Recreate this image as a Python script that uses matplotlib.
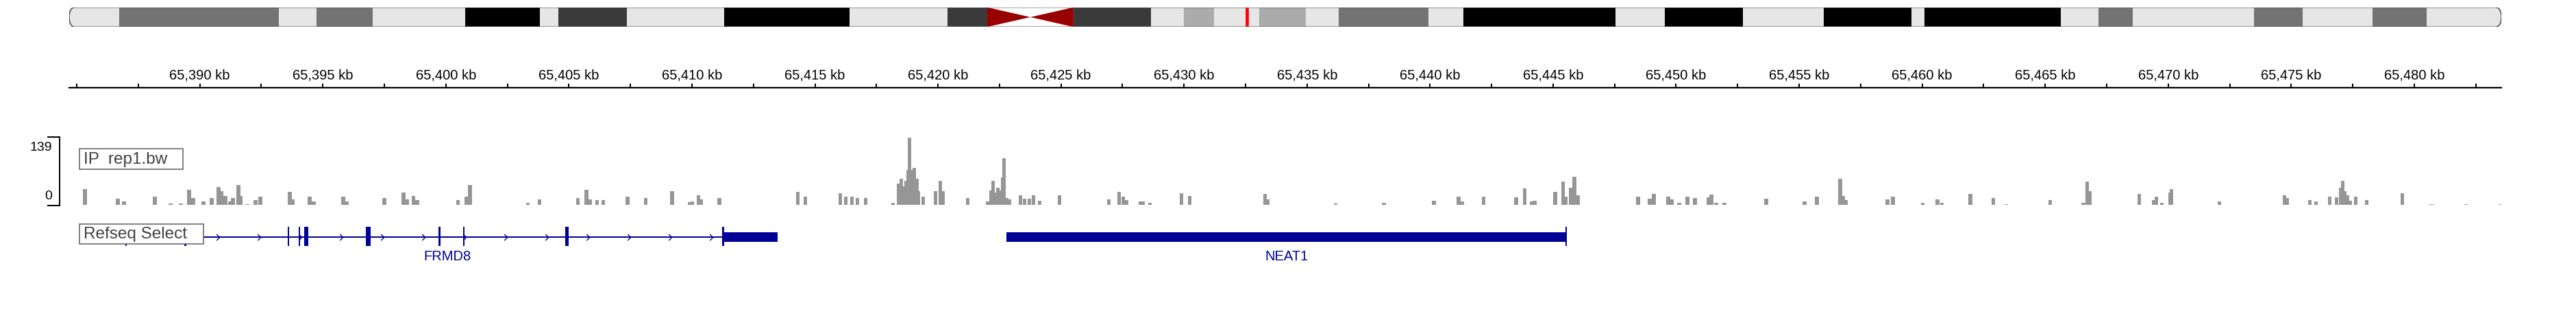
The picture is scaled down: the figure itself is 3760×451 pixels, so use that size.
import numpy as np
import matplotlib
matplotlib.use("Agg")
import matplotlib.pyplot as plt
from matplotlib.patches import Rectangle, FancyBboxPatch
from matplotlib.lines import Line2D
from matplotlib.path import Path
from matplotlib import transforms

plt.rcParams['font.family'] = ['Liberation Sans', 'DejaVu Sans']

# ------------------------------------------------------------------ data
CHROM_LEN_MB = 135.086
band_edges_mb = [0, 2.78, 11.64, 13.74, 16.86, 21.99, 26.14, 27.17, 30.97, 36.38,
                 43.34, 48.78, 50.99, 55.78, 60.08, 61.91, 63.58, 66.09, 68.68,
                 70.51, 75.49, 77.43, 85.88, 88.62, 92.96, 97.45, 102.32, 103.04,
                 110.61, 112.70, 114.61, 121.34, 124.04, 127.92, 130.93, 135.086]
band_stains = ['gneg', 'gpos50', 'gneg', 'gpos50', 'gneg', 'gpos100', 'gneg', 'gpos75',
               'gneg', 'gpos100', 'gneg', 'gpos75', 'acen', 'gpos75', 'gneg', 'gpos25',
               'gneg', 'gpos25', 'gneg', 'gpos50', 'gneg', 'gpos100', 'gneg', 'gpos100',
               'gneg', 'gpos100', 'gneg', 'gpos100', 'gneg', 'gpos50', 'gneg', 'gpos50',
               'gneg', 'gpos50', 'gneg']
stain_colors = {'gneg': '#E6E6E6', 'gpos25': '#ABABAB', 'gpos50': '#737373',
                'gpos75': '#3A3A3A', 'gpos100': '#000000', 'acen': '#990000'}

VIEW_START_KB = 65384.69
VIEW_END_KB = 65483.54
ruler_tick_kb = [65385 + 2.5 * i for i in range(40)]
ruler_label_kb = [65390, 65395, 65400, 65405, 65410, 65415, 65420, 65425, 65430, 65435,
                  65440, 65445, 65450, 65455, 65460, 65465, 65470, 65475, 65480]

track_name = "IP  rep1.bw"
SIGNAL_MAX = 139
signal_kb = [65385.33, 65386.67, 65386.92, 65388.17, 65388.81, 65389.23, 65389.56, 65389.73,
             65390.15, 65390.48, 65390.76, 65390.87, 65391.04, 65391.23, 65391.35, 65391.57,
             65391.65, 65391.93, 65392.26, 65392.46, 65393.66, 65393.77, 65394.46, 65394.63,
             65395.83, 65395.97, 65397.50, 65398.28, 65398.44, 65398.69, 65398.83, 65400.50,
             65400.84, 65400.98, 65403.34, 65403.81, 65405.37, 65405.71, 65405.87, 65406.15,
             65406.40, 65407.38, 65408.13, 65409.19, 65409.91, 65410.02, 65410.27, 65410.38,
             65411.11, 65414.31, 65414.61, 65416.03, 65416.25, 65416.51, 65416.73, 65417.06,
             65418.18, 65418.40, 65418.51, 65418.62, 65418.70, 65418.79, 65418.84, 65418.90,
             65418.98, 65419.04, 65419.15, 65419.21, 65419.40, 65419.90, 65420.10, 65420.21,
             65421.21, 65422.02, 65422.16, 65422.24, 65422.32, 65422.43, 65422.55, 65422.63,
             65422.68, 65422.80, 65422.91, 65423.35, 65423.52, 65423.71, 65423.88, 65424.13,
             65424.94, 65426.94, 65427.36, 65427.53, 65427.67, 65428.22, 65428.33, 65428.61,
             65429.89, 65430.23, 65433.29, 65433.40, 65436.16, 65438.13, 65440.16, 65441.16,
             65441.30, 65442.17, 65443.50, 65443.84, 65444.12, 65444.25, 65445.09, 65445.40,
             65445.51, 65445.73, 65445.87, 65446.01, 65448.46, 65448.93, 65449.10, 65449.68,
             65449.82, 65450.13, 65450.46, 65450.77, 65451.32, 65451.43, 65451.63, 65451.96,
             65453.66, 65455.22, 65455.72, 65456.67, 65456.78, 65456.89, 65458.59, 65458.81,
             65460.03, 65460.62, 65460.81, 65461.96, 65462.90, 65463.43, 65465.21, 65466.55,
             65466.71, 65466.80, 65468.83, 65469.41, 65469.52, 65469.75, 65470.08, 65470.14,
             65472.09, 65474.73, 65474.84, 65475.76, 65476.01, 65476.57, 65476.85, 65477.01,
             65477.10, 65477.18, 65477.29, 65477.40, 65477.62, 65478.06, 65479.52, 65480.70,
             65482.10, 65483.50]
signal_val = [32, 12, 6, 16, 2, 2, 31, 13,
              6, 13, 36, 28, 18, 6, 13, 41,
              18, 1, 9, 16, 27, 11, 16, 6,
              16, 6, 13, 25, 11, 18, 9, 9,
              16, 41, 4, 11, 13, 31, 11, 9,
              9, 16, 13, 28, 5, 6, 20, 11,
              13, 27, 17, 23, 16, 17, 13, 13,
              3, 44, 54, 38, 49, 73, 139, 73,
              61, 76, 54, 28, 17, 28, 50, 28,
              13, 6, 30, 49, 25, 35, 30, 57,
              96, 13, 11, 19, 12, 12, 19, 8,
              20, 11, 26, 16, 9, 7, 6, 4,
              23, 18, 22, 11, 2, 4, 8, 17,
              6, 17, 15, 33, 6, 8, 26, 48,
              16, 35, 58, 19, 17, 12, 22, 17,
              11, 4, 17, 13, 15, 21, 4, 3,
              12, 6, 16, 53, 18, 9, 11, 17,
              3, 11, 4, 22, 13, 1, 9, 4,
              48, 28, 22, 9, 17, 3, 25, 32,
              7, 19, 13, 9, 6, 17, 15, 35,
              50, 28, 20, 8, 16, 9, 24, 1,
              1, 1]

annotation_name = "Refseq Select"
gene_names = ["FRMD8", "NEAT1"]
gene_spans_kb = [(65386.65, 65413.48), (65422.77, 65445.56)]
gene_cds_kb = [
    [(65386.96, 65387.04), (65389.36, 65389.44), (65393.58, 65393.64), (65394.02, 65394.08),
     (65394.24, 65394.41), (65396.74, 65396.95), (65399.70, 65399.79), (65400.69, 65400.77),
     (65404.85, 65405.00), (65411.22, 65411.30)],
    [(65445.50, 65445.56)],
]
gene_utr_kb = [
    [(65386.65, 65386.96), (65411.30, 65413.48)],
    [(65422.77, 65445.50)],
]
gene_has_introns = [True, False]

# ------------------------------------------------------------------ layout helpers
W, H = 3760, 452
DPI = 100
PT = 72.0 / DPI


def fbox(x0, y0, x1, y1):
    return [x0 / W, 1 - y1 / H, (x1 - x0) / W, (y1 - y0) / H]


def fx(x):
    return x / W


def fy(y):
    return 1 - y / H


BLUE = '#000096'
fig = plt.figure(figsize=(W / DPI, H / DPI), dpi=DPI)
fig.patch.set_facecolor('white')

# ------------------------------------------------------------------ ideogram
ax_i = fig.add_axes(fbox(101, 11.7, 3651, 40.3))
ax_i.set_xlim(0, CHROM_LEN_MB)
ax_i.set_ylim(0, 1)
ax_i.axis('off')
r = 0.0025
clip = FancyBboxPatch((0, 0), 1, 1, boxstyle=f"round,pad=0,rounding_size={r}",
                      mutation_aspect=0.5 / r, transform=ax_i.transAxes,
                      fc='none', ec='none')
ax_i.add_patch(clip)
lefts = band_edges_mb[:-1]
widths = [b - a for a, b in zip(band_edges_mb[:-1], band_edges_mb[1:])]
cols = [stain_colors[s] if s != 'acen' else 'white' for s in band_stains]
bars = ax_i.bar(lefts, [1] * len(lefts), width=widths, bottom=0, align='edge',
                color=cols, linewidth=0, antialiased=False)
for b in bars:
    b.set_clip_path(clip)
for i, s in enumerate(band_stains):
    if s == 'acen':
        c0, c1 = band_edges_mb[i], band_edges_mb[i + 1]
        cm = (c0 + c1) / 2
        ax_i.fill([c0, c0, cm], [0, 1, 0.5], color=stain_colors['acen'], lw=0)
        ax_i.fill([c1, c1, cm], [0, 1, 0.5], color=stain_colors['acen'], lw=0)
outline = FancyBboxPatch((0, 0), 1, 1, boxstyle=f"round,pad=0,rounding_size={r}",
                         mutation_aspect=0.5 / r, transform=ax_i.transAxes,
                         fc='none', ec='#4a4a4a', lw=1.6 * PT, zorder=5)
ax_i.add_patch(outline)
ax_i.axvspan(VIEW_START_KB / 1000, VIEW_END_KB / 1000, color='red', lw=1.2, zorder=4)

# ------------------------------------------------------------------ ruler
ax_r = fig.add_axes(fbox(101, 95, 3651, 129.3))
ax_r.set_xlim(VIEW_START_KB, VIEW_END_KB)
ax_r.set_ylim(0, 1)
ax_r.patch.set_alpha(0)
for sp in ['top', 'left', 'right']:
    ax_r.spines[sp].set_visible(False)
ax_r.spines['bottom'].set_linewidth(2.2 * PT)
ax_r.set_yticks([])
ax_r.set_xticks(ruler_tick_kb)
ax_r.tick_params(axis='x', direction='in', length=6 * PT, width=2 * PT,
                 labelbottom=False, color='black')
blend = transforms.blended_transform_factory(ax_r.transData, ax_r.transAxes)
for kb in ruler_label_kb:
    ax_r.text(kb, (129.3 - 115.7) / (129.3 - 95), f"{kb:,} kb", transform=blend,
              ha='center', va='baseline', fontsize=14.5, color='black')

# ------------------------------------------------------------------ signal track
ax_d = fig.add_axes(fbox(101, 202.4, 3651, 299.5))
ax_d.set_xlim(VIEW_START_KB, VIEW_END_KB)
ax_d.set_ylim(0, SIGNAL_MAX)
ax_d.axis('off')
ax_d.bar(signal_kb, signal_val, width=0.15, color='#969696', linewidth=0, align='center')

fig.add_artist(Line2D([fx(70), fx(87), fx(87), fx(70)],
                      [fy(201), fy(201), fy(300.5), fy(300.5)],
                      transform=fig.transFigure, color='black', lw=2 * PT,
                      solid_joinstyle='miter'))
fig.text(fx(76), fy(215.5), str(SIGNAL_MAX), ha='right', va='center', fontsize=14)
fig.text(fx(76), fy(286.5), '0', ha='right', va='center', fontsize=14)

fig.add_artist(Rectangle((fx(116), fy(248)), (267 - 116) / W, 30 / H,
                         transform=fig.transFigure, fc='white', ec='#5a5a5a',
                         lw=1.5 * PT, zorder=3))
fig.text(fx(122), fy(233.5), track_name, ha='left', va='center', fontsize=17.5,
         color='#404040', zorder=4)

# ------------------------------------------------------------------ gene track
ax_g = fig.add_axes(fbox(101, 320, 3651, 395))
ax_g.set_xlim(VIEW_START_KB, VIEW_END_KB)
ax_g.set_ylim(395, 320)
ax_g.axis('off')
GL = 347.3
chev = Path([(-0.5, 1), (0.5, 0), (-0.5, -1)], [Path.MOVETO, Path.LINETO, Path.LINETO])
step = 60 / (3550 / (VIEW_END_KB - VIEW_START_KB))
for name, span, cds, utr, intr in zip(gene_names, gene_spans_kb, gene_cds_kb,
                                      gene_utr_kb, gene_has_introns):
    s, e = span
    ax_g.hlines(GL, s, e, color=BLUE, lw=2 * PT, zorder=1)
    if intr:
        xs = np.arange(s + 0.74, e - 0.1, step)
        ax_g.plot(xs, [GL] * len(xs), ls='none', marker=chev, ms=6.5,
                  mec=BLUE, mfc='none', mew=1.0, zorder=2)
    for a, b in utr:
        ax_g.add_patch(Rectangle((a, 340), b - a, 14, fc=BLUE, ec='none', zorder=3))
    for a, b in cds:
        ax_g.add_patch(Rectangle((a, 332.3), b - a, 27.4, fc=BLUE, ec='none', zorder=3))
    ax_g.text((s + e) / 2, 374.5, name, ha='center', va='center', fontsize=14.5,
              color=BLUE)

fig.add_artist(Rectangle((fx(116), fy(357)), (297 - 116) / W, 29 / H,
                         transform=fig.transFigure, fc='white', ec='#5a5a5a',
                         lw=1.5 * PT, zorder=3))
fig.text(fx(122), fy(342.5), annotation_name, ha='left', va='center', fontsize=17.5,
         color='#404040', zorder=4)

fig.savefig('out.png', dpi=DPI, facecolor='white')
